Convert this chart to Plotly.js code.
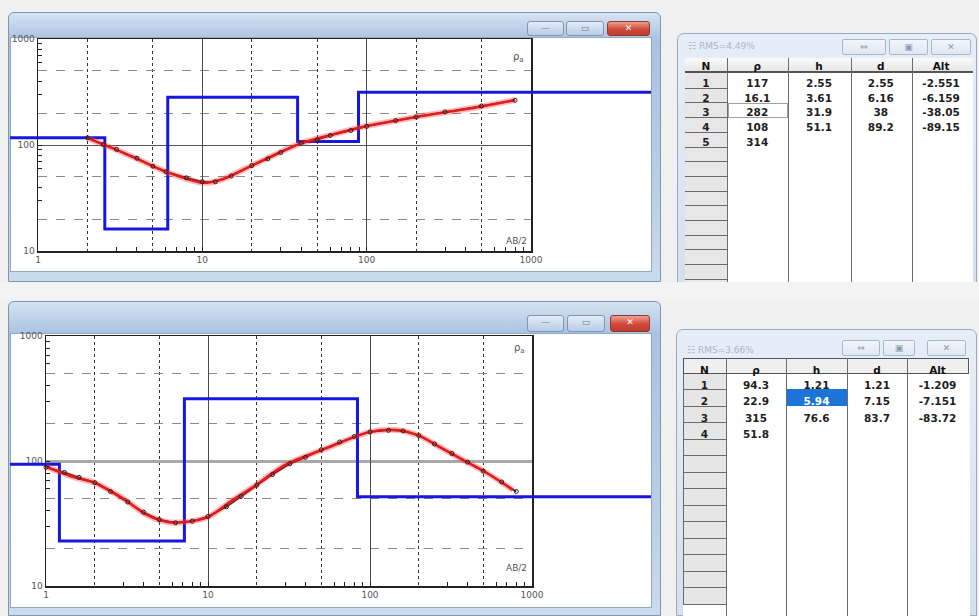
<!DOCTYPE html>
<html><head><meta charset="utf-8">
<script src="https://cdn.plot.ly/plotly-3.0.1.min.js"></script>
<style>
body{margin:0;width:979px;height:616px;overflow:hidden;background:#f0f0f0;position:relative;font-family:"DejaVu Sans",sans-serif}
.abs{position:absolute;box-sizing:border-box}
.win{border:1px solid #7f94ad;background:linear-gradient(#d6e3f2,#a9c3e2 10%,#b7cde8 60%,#c9dbef);border-radius:6px 6px 0 0}
.inner{background:#fff;border:1px solid #93a7bf}
.btn{border:1px solid #8096b1;border-radius:3px;background:linear-gradient(#e3ecf6,#b9cde5);color:#6b7f99;font-size:9px;text-align:center;line-height:13px}
.close{border:1px solid #8a3a30;background:linear-gradient(#eea08f,#d0493a 55%,#c23b2b);color:#fff;font-weight:bold}
.twin{border:1px solid #97aac0;background:linear-gradient(#e7eef7,#d4e0ee);border-radius:7px 7px 0 0}
.tbtn{border:1px solid #a8b8cb;border-radius:2px;background:linear-gradient(#f3f6fa,#dfe7f1);color:#8a9ab0;font-size:9px;text-align:center;line-height:14px}
.ttl{color:#a9b6c6;font-size:9px}
.vsep{background:#6d6d6d;width:1px}
.hsep{background:#6a6a6a;height:1px}
#plot{position:absolute;left:0;top:0;width:979px;height:616px}
</style></head>
<body>
<!-- chart windows -->
<div class="abs win" style="left:8px;top:12px;width:653px;height:270px"></div>
<div class="abs inner" style="left:10px;top:37px;width:642px;height:235px"></div>
<div class="abs btn" style="left:527px;top:21px;width:37px;height:15px">—</div>
<div class="abs btn" style="left:566px;top:21px;width:38px;height:15px">▭</div>
<div class="abs btn close" style="left:607px;top:21px;width:43px;height:15px">✕</div>

<div class="abs win" style="left:8px;top:301px;width:653px;height:315px"></div>
<div class="abs inner" style="left:10px;top:333px;width:642px;height:275px"></div>
<div class="abs btn" style="left:527px;top:315px;width:37px;height:17px">—</div>
<div class="abs btn" style="left:567px;top:315px;width:38px;height:17px">▭</div>
<div class="abs btn close" style="left:610px;top:315px;width:40px;height:17px">✕</div>

<!-- table windows -->
<div class="abs twin" style="left:677px;top:33px;width:300px;height:255px"></div>
<div class="abs" style="left:685px;top:58px;width:288px;height:230px;background:#fff"></div>
<div class="abs" style="left:685px;top:58px;width:288px;height:15px;background:linear-gradient(#fbfbfb,#e6e6e6);border-bottom:2px solid #555"></div>
<div class="abs" style="left:685px;top:73px;width:42px;height:215px;background:#e7e7e7"></div>
<div class="abs" style="left:728px;top:103px;width:60px;height:15px;border:1px solid #a0a0a0"></div>
<div class="abs ttl" style="left:688px;top:41px">☷ RMS=4.49%</div>
<div class="abs tbtn" style="left:842px;top:39px;width:44px;height:16px">⇔</div>
<div class="abs tbtn" style="left:889px;top:39px;width:39px;height:16px">▣</div>
<div class="abs tbtn" style="left:931px;top:39px;width:40px;height:16px">✕</div>

<div class="abs twin" style="left:676px;top:329px;width:301px;height:287px"></div>
<div class="abs" style="left:683px;top:358px;width:287px;height:258px;background:#fff"></div>
<div class="abs ttl" style="left:687px;top:345px">☷ RMS=3.66%</div>
<div class="abs tbtn" style="left:842px;top:340px;width:38px;height:16px">⇔</div>
<div class="abs tbtn" style="left:883px;top:340px;width:32px;height:16px">▣</div>
<div class="abs tbtn" style="left:927px;top:340px;width:39px;height:16px">✕</div>

<div class="abs" style="left:0;top:282px;width:979px;height:18px;background:#f3f3f3"></div>

<div id="plot"></div>
<div id="seps"></div>
<script>
// ---------------- data ----------------
// top sounding: computed (red) curve
const abTopCalc  = [2, 3, 4, 6, 8, 10, 13, 20, 30, 40, 60, 100, 200, 500, 800];
const rhoTopCalc = [116, 90, 74, 56, 48, 44, 47, 64, 86, 104, 124, 151, 184, 231, 266];
// top sounding: field data (black)
const abTopObs  = [2, 2.5, 3, 4, 5, 6, 8, 10, 12, 15, 20, 25, 30, 40, 50, 60, 80, 100, 150, 200, 300, 500, 800];
const rhoTopObs = [117, 101, 91, 75, 63, 56, 49, 45, 45, 51, 64, 74, 85, 104, 112, 123, 137, 150, 170, 184, 205, 233, 264];
// top model table
const nTop   = [1, 2, 3, 4, 5];
const rhoTop = [117, 16.1, 282, 108, 314];
const hTop   = [2.55, 3.61, 31.9, 51.1];
const dTop   = [2.55, 6.16, 38, 89.2];
const altTop = [-2.551, -6.159, -38.05, -89.15];

// bottom sounding
const abBotCalc  = [1, 1.5, 2, 3, 4.2, 5.6, 7.2, 10, 14, 19, 30, 56, 100, 147, 204, 270, 375, 513, 763];
const rhoBotCalc = [90, 74, 67, 50, 37, 32.5, 32.5, 35.6, 48, 62, 93, 129, 171, 177, 158, 129, 102, 82, 58.6];
const abBotObs  = [1, 1.3, 1.6, 2, 2.5, 3.2, 4, 5, 6.3, 8, 10, 13, 16, 20, 25, 32, 40, 50, 65, 80, 100, 130, 160, 200, 250, 320, 400, 500, 650, 800];
const rhoBotObs = [89, 81, 74, 67, 57, 47, 39, 34, 32, 33, 36, 43, 52, 64, 78, 95, 107, 123, 142, 157, 171, 176, 174, 160, 137, 115, 98, 83, 68, 57];
const nBot   = [1, 2, 3, 4];
const rhoBot = [94.3, 22.9, 315, 51.8];
const hBot   = [1.21, 5.94, 76.6];
const dBot   = [1.21, 7.15, 83.7];
const altBot = [-1.209, -7.151, -83.72];

const xTickVals = [1, 10, 100, 1000];
const yTickVals = [10, 100, 1000];
const solidGridX = [10, 100];
const solidGridY = [100];
const gridVals  = [2, 5, 20, 50, 200, 500];
const minorVals = [3, 4, 6, 7, 8, 9, 30, 40, 60, 70, 80, 90, 300, 400, 600, 700, 800, 900];
const header = ['N', 'ρ', 'h', 'd', 'Alt'];
const modelEdges = [0.01, 1e5]; // half-space edges (clipped by the axes)

// ---------------- layout helpers ----------------
const W = 979, H = 616;
const fx = p => p / W, fy = p => 1 - p / H;
const TF = {family: 'DejaVu Sans', size: 9, color: '#555'};

function tickSet(labels) {
  const vals = labels.concat(minorVals).sort((a, b) => a - b);
  return {tickvals: vals, ticktext: vals.map(v => labels.includes(v) ? String(v) : '')};
}

function panel(L, R, T, B, wL, wR, a, y100) {
  const dec = (R - L) / 3;
  const xd = [fx(L), fx(R)], yd = [fy(B), fy(T)];
  const xt = tickSet(xTickVals), yt = tickSet(yTickVals);
  const lay = {};
  lay['xaxis' + a.x] = {type: 'log', range: [0, 3], domain: xd, anchor: 'y' + a.y,
    tickvals: xt.tickvals, ticktext: xt.ticktext, tickfont: TF, ticks: 'inside', ticklen: 4, tickcolor: '#222',
    showgrid: false, zeroline: false,
    showline: true, linecolor: '#222', linewidth: 1.5, mirror: true,
    minor: {tickvals: gridVals, showgrid: true, gridcolor: '#333', gridwidth: 1, griddash: 'dot', ticks: ''}};
  lay['yaxis' + a.y] = {type: 'log', range: [1, 3], domain: yd, anchor: 'x' + a.x,
    tickvals: yt.tickvals, ticktext: yt.ticktext, tickfont: TF, ticks: 'inside', ticklen: 4, tickcolor: '#222',
    showgrid: false, zeroline: false,
    showline: true, linecolor: '#222', linewidth: 1.5, mirror: true,
    minor: {tickvals: gridVals, showgrid: true, gridcolor: '#8a8a8a', gridwidth: 1, griddash: 'dash', ticks: ''}};
  lay['xaxis' + a.xm] = {type: 'log', range: [0, 3], overlaying: 'x' + a.x, anchor: 'y' + a.y,
    tickvals: solidGridX, showticklabels: false, ticks: '',
    showgrid: true, gridcolor: '#4a4a4a', gridwidth: 1, zeroline: false, showline: false};
  lay['yaxis' + a.ym] = {type: 'log', range: [1, 3], overlaying: 'y' + a.y, anchor: 'x' + a.x,
    tickvals: solidGridY, showticklabels: false, ticks: '',
    showgrid: true, gridcolor: y100.c, gridwidth: y100.w, zeroline: false, showline: false};
  lay['xaxis' + a.xw] = {type: 'log', domain: [fx(wL), fx(wR)], anchor: 'y' + a.yw,
    range: [(wL - L) / dec, 3 + (wR - R) / dec], visible: false};
  lay['yaxis' + a.yw] = {type: 'log', domain: yd, anchor: 'x' + a.xw, range: [1, 3], visible: false};
  return lay;
}

// invisible traces so that the grid / tick axes get drawn
function axisHolders(a, ab, rho) {
  const pairs = [['x' + a.x, 'y' + a.y], ['x' + a.xm, 'y' + a.y], ['x' + a.x, 'y' + a.ym]];
  return pairs.map(p => ({x: ab, y: rho, xaxis: p[0], yaxis: p[1], mode: 'lines',
    line: {width: 0}, opacity: 0, hoverinfo: 'skip'}));
}

function dataTraces(xa, ya, abCalc, rhoCalc, abObs, rhoObs, rho, d) {
  const mx = [modelEdges[0]].concat(d, [modelEdges[1]]);
  const my = rho.concat([rho[rho.length - 1]]);
  return [
    {x: mx, y: my, xaxis: xa, yaxis: ya, mode: 'lines', line: {shape: 'hv', color: '#1717e0', width: 3}, hoverinfo: 'skip'},
    {x: abObs, y: rhoObs, xaxis: xa, yaxis: ya, mode: 'lines', line: {color: '#111', width: 1.5}, hoverinfo: 'skip'},
    {x: abCalc, y: rhoCalc, xaxis: xa, yaxis: ya, mode: 'lines', line: {color: 'rgba(255,60,60,0.35)', width: 6, shape: 'spline', smoothing: 0.8}, hoverinfo: 'skip'},
    {x: abCalc, y: rhoCalc, xaxis: xa, yaxis: ya, mode: 'lines', line: {color: '#e41a1c', width: 2.5, shape: 'spline', smoothing: 0.8}, hoverinfo: 'skip'},
    {x: abObs, y: rhoObs, xaxis: xa, yaxis: ya, mode: 'markers', marker: {symbol: 'circle-open', size: 4, color: '#222', line: {width: 1}}, hoverinfo: 'skip'}
  ];
}

function fmt(arr, n) { const out = arr.map(String); while (out.length < n) out.push(''); return out; }

const CLEAR = 'rgba(0,0,0,0)';
function tableTrace(o) {
  const cols = [fmt(o.n, o.rows), fmt(o.rho, o.rows), fmt(o.h, o.rows), fmt(o.d, o.rows), fmt(o.alt, o.rows)];
  const fill = cols.map((c, i) => c.map(() => o.bare ? CLEAR : (i === 0 ? '#e6e6e6' : '#ffffff')));
  const fcol = cols.map(c => c.map(() => '#1e1e1e'));
  const lcol = cols.map((c, i) => c.map(() => o.bare ? CLEAR : (i === 0 ? '#6a6a6a' : '#ffffff')));
  if (o.hl) { fill[o.hl[0]][o.hl[1]] = '#1c74d8'; fcol[o.hl[0]][o.hl[1]] = '#ffffff'; lcol[o.hl[0]][o.hl[1]] = '#1c74d8'; }
  return {type: 'table', domain: {x: [fx(o.xL), fx(o.xR)], y: [fy(o.yB), fy(o.yT)]}, columnwidth: o.widths,
    header: {values: header, height: o.headH, align: 'center', fill: {color: o.bare ? CLEAR : '#efefef'},
      line: {color: o.bare ? CLEAR : '#555', width: 1}, font: {family: 'DejaVu Sans', size: 10.5, color: '#111', weight: 'bold'}},
    cells: {values: cols, height: o.rowH, align: 'center', fill: {color: fill},
      line: {color: lcol, width: 1}, font: {family: 'DejaVu Sans', size: 10.5, color: fcol, weight: 'bold'}}};
}

const AX1 = {x: '', y: '', xm: '2', ym: '2', xw: '3', yw: '3'};
const AX2 = {x: '4', y: '4', xm: '5', ym: '5', xw: '6', yw: '6'};

const layout = Object.assign({width: W, height: H, margin: {l: 0, r: 0, t: 0, b: 0},
  paper_bgcolor: 'rgba(0,0,0,0)', plot_bgcolor: 'rgba(0,0,0,0)', showlegend: false,
  annotations: [
    {text: 'ρ<sub>a</sub>', x: fx(518), y: fy(49), xref: 'paper', yref: 'paper', showarrow: false, font: {family: 'DejaVu Sans', size: 10, color: '#555'}},
    {text: 'AB/2', x: fx(516), y: fy(241), xref: 'paper', yref: 'paper', showarrow: false, font: {family: 'DejaVu Sans', size: 9, color: '#555'}},
    {text: 'ρ<sub>a</sub>', x: fx(519), y: fy(348), xref: 'paper', yref: 'paper', showarrow: false, font: {family: 'DejaVu Sans', size: 10, color: '#555'}},
    {text: 'AB/2', x: fx(516), y: fy(575), xref: 'paper', yref: 'paper', showarrow: false, font: {family: 'DejaVu Sans', size: 9, color: '#555'}}
  ]},
  panel(38, 531, 39, 251, 10, 651, AX1, {c: '#555', w: 1}),
  panel(46, 532, 336, 586, 10, 651, AX2, {c: '#a8a8a8', w: 3})
);

const traces = [].concat(
  axisHolders(AX1, abTopObs, rhoTopObs),
  axisHolders(AX2, abBotObs, rhoBotObs),
  dataTraces('x3', 'y3', abTopCalc, rhoTopCalc, abTopObs, rhoTopObs, rhoTop, dTop),
  dataTraces('x6', 'y6', abBotCalc, rhoBotCalc, abBotObs, rhoBotObs, rhoBot, dBot),
  [tableTrace({xL: 685, xR: 972, yT: 54, yB: 288, rows: 14, n: nTop, rho: rhoTop, h: hTop, d: dTop, alt: altTop,
      widths: [42, 61, 63, 61, 60], headH: 17, rowH: 14.7, bare: true}),
   tableTrace({xL: 683, xR: 968, yT: 358, yB: 616, rows: 14, n: nBot, rho: rhoBot, h: hBot, d: dBot, alt: altBot,
      widths: [43, 60, 61, 60, 61], headH: 15, rowH: 16.5, hl: [2, 1]})]
);

Plotly.newPlot('plot', traces, layout, {staticPlot: true});

// column separators of the two tables and row lines of the top N column
const sc = document.getElementById('seps');
function line(cls, l, t, w, h) { const e = document.createElement('div'); e.className = 'abs ' + cls;
  e.style.left = l + 'px'; e.style.top = t + 'px'; if (w) e.style.width = w + 'px'; if (h) e.style.height = h + 'px'; sc.appendChild(e); }
[727, 788, 851, 912].forEach(x => line('vsep', x, 58, 0, 224));
[726, 786, 847, 907].forEach(x => line('vsep', x, 358, 0, 258));
for (let k = 1; k <= 14; k++) line('hsep', 685, Math.round(73 + 14.7 * k), 42, 0);
</script>
</body></html>
